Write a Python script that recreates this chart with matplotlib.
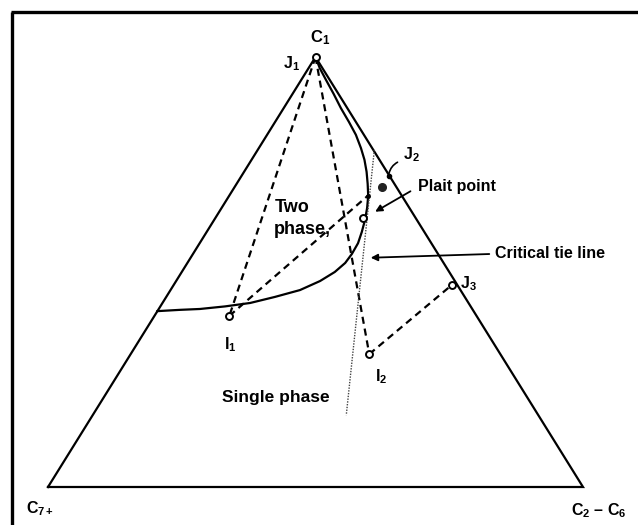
import matplotlib
matplotlib.use('Agg')
import matplotlib.pyplot as plt
from matplotlib.lines import Line2D

plt.rcParams['font.family'] = 'Liberation Sans'
plt.rcParams['font.weight'] = 'bold'
plt.rcParams['mathtext.fontset'] = 'custom'
plt.rcParams['mathtext.rm'] = 'Liberation Sans:bold'
plt.rcParams['mathtext.it'] = 'Liberation Sans:bold'
plt.rcParams['mathtext.bf'] = 'Liberation Sans:bold'

# compositions as (C1 fraction, C2-C6 fraction); C7+ is the remainder
binodal_c1 = [0.409, 0.412, 0.414, 0.420, 0.428, 0.442, 0.458, 0.479, 0.500,
              0.521, 0.542, 0.567, 0.593, 0.621, 0.649, 0.677, 0.705, 0.733,
              0.761, 0.788, 0.819, 0.849, 0.881, 0.914, 0.947, 0.974, 1.0]
binodal_c26 = [0.0, 0.041, 0.077, 0.121, 0.164, 0.203, 0.242, 0.269, 0.286,
               0.295, 0.297, 0.296, 0.290, 0.282, 0.272, 0.260, 0.245, 0.229,
               0.211, 0.191, 0.166, 0.138, 0.107, 0.077, 0.046, 0.021, 0.0]

point_names = ['J1', 'J2', 'J3', 'I1', 'I2', 'P', 'Q']
point_c1 = [1.0, 0.723, 0.470, 0.398, 0.309, 0.677, 0.626]
point_c26 = [0.0, 0.275, 0.520, 0.140, 0.446, 0.259, 0.275]
plait_c1, plait_c26 = 0.698, 0.275

# tie lines between the points above
tie_lines = [('J1', 'I1'), ('J1', 'I2'), ('I2', 'J3'), ('I1', 'P')]

# critical tie line (dotted), two end compositions
crit_c1 = [0.784, 0.167]
crit_c26 = [0.218, 0.474]


def tern(c1, c26):
    return c26 + c1 / 2.0, c1


pts = {n: tern(a, b) for n, a, b in zip(point_names, point_c1, point_c26)}

fig = plt.figure(figsize=(6.38, 5.25), dpi=100)
ax = fig.add_axes([0, 0, 1, 1])
ax.set_xlim(-48 / 535, (638 - 48) / 535)
ax.set_ylim((487 - 525) / 430, 487 / 430)
ax.axis('off')

# outer frame (top and left edge only)
ax.add_line(Line2D([0.019, 0.019], [0.0, 0.978], transform=ax.transAxes,
                   color='black', lw=2.4, solid_capstyle='butt'))
ax.add_line(Line2D([0.017, 1.0], [0.978, 0.978], transform=ax.transAxes,
                   color='black', lw=2.4, solid_capstyle='butt'))

# triangle
tx, ty = zip(*[tern(0, 0), tern(0, 1), tern(1, 0), tern(0, 0)])
ax.plot(tx, ty, color='black', lw=1.6, solid_joinstyle='miter')

# phase envelope
bx, by = zip(*[tern(a, b) for a, b in zip(binodal_c1, binodal_c26)])
ax.plot(bx, by, color='black', lw=1.6, solid_joinstyle='round')

# tie lines
for a, b in tie_lines:
    ax.plot([pts[a][0], pts[b][0]], [pts[a][1], pts[b][1]], color='black',
            lw=1.6, dashes=(3.2, 2.2))

# critical tie line
cx, cy = zip(*[tern(a, b) for a, b in zip(crit_c1, crit_c26)])
ax.plot(cx, cy, color='#444444', lw=1.0, linestyle=(0, (1, 1)))

# composition markers
for n in ['J1', 'J3', 'I1', 'I2', 'Q']:
    ax.plot(*pts[n], marker='o', ms=5, mfc='white', mec='black', mew=1.4)
ax.plot(*pts['J2'], marker='o', ms=3, color='black')
ax.plot(*pts['P'], marker='o', ms=2.5, color='black')
ax.plot(*tern(plait_c1, plait_c26), marker='o', ms=5.5, color='#222222')


# labels
def lab(x, y, s, size=11.5, ha='center'):
    ax.text(x, y, s, fontsize=size, ha=ha, va='center', fontweight='bold')


lab(0.508, 1.044, 'C$_1$', 12)
lab(0.456, 0.984, 'J$_1$')
lab(0.680, 0.772, 'J$_2$')
lab(0.770, 0.474, 'J$_3$', ha='left')
lab(0.340, 0.330, 'I$_1$')
lab(0.622, 0.256, 'I$_2$')
lab(-0.015, -0.051, 'C$_{7+}$')
lab(1.030, -0.056, 'C$_2$ – C$_6$')
lab(0.424, 0.649, 'Two', 13, ha='left')
lab(0.422, 0.598, 'phase,', 13, ha='left')
lab(0.325, 0.207, 'Single phase', 12.5, ha='left')
lab(0.692, 0.700, 'Plait point', 11.5, ha='left')
lab(0.836, 0.544, 'Critical tie line', 11.5, ha='left')

# pointers
ax.annotate('', xy=(0.607, 0.637), xytext=(0.682, 0.691),
            arrowprops=dict(arrowstyle='-|>', color='black', lw=1.3,
                            mutation_scale=10))
ax.annotate('', xy=(0.598, 0.533), xytext=(0.830, 0.542),
            arrowprops=dict(arrowstyle='-|>', color='black', lw=1.3,
                            mutation_scale=10))
ax.annotate('', xy=pts['J2'], xytext=(0.658, 0.758),
            arrowprops=dict(arrowstyle='-', color='black', lw=1.2,
                            connectionstyle='arc3,rad=0.3'))

fig.savefig('out.png', dpi=100)
